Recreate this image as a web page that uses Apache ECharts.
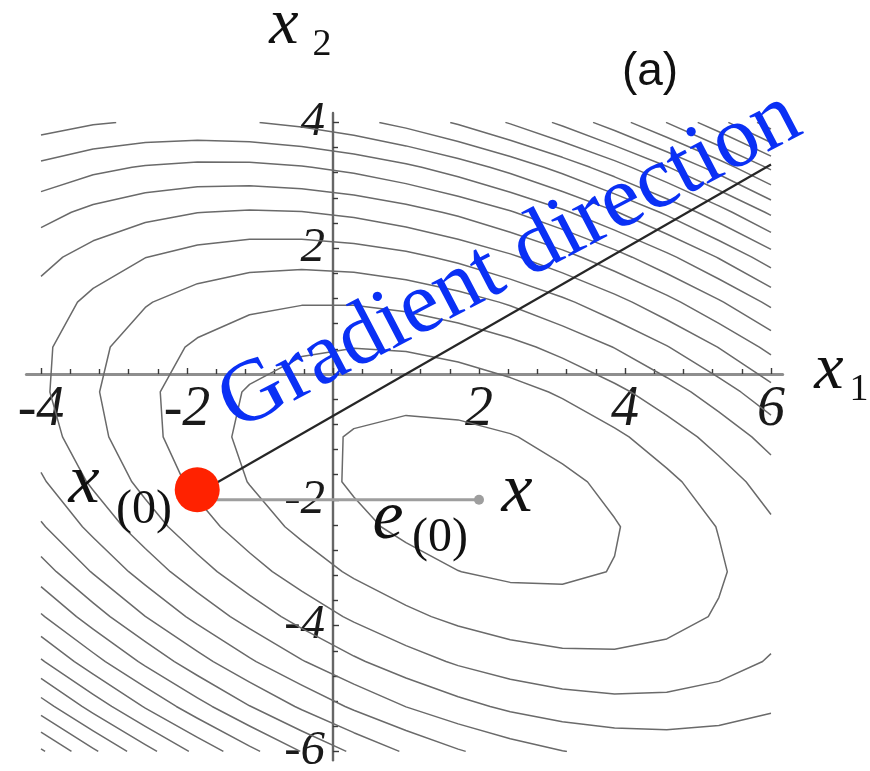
<!DOCTYPE html>
<html>
<head>
<meta charset="utf-8">
<script src="https://cdn.jsdelivr.net/npm/echarts@6/dist/echarts.min.js"></script>
<style>
  html, body { margin: 0; padding: 0; background: #ffffff; }
  #chart { width: 870px; height: 771px; }
</style>
</head>
<body>
<div id="chart"></div>
<script>
// Quadratic form f(x) = 1/2 x'Ax - b'x + c
const matrixA = [[3, 2], [2, 6]];
const vectorB = [2, -8];
const constC = 0;

// Contour levels of f
const contourLevels = [-5.4, 3.6, 12.6, 21.6, 30.6, 39.6, 48.6, 57.6, 66.6, 75.6,
                       84.6, 93.6, 102.6, 111.6, 120.6, 129.6, 138.6, 147.6, 156.6, 165.6];

// Domain of the contour plot and its sampling grid
const domainX1 = [-4, 6];
const domainX2 = [-6, 4];
const samplesPerSide = 15;

// Tick labels shown on each axis
const tickLabelsX1 = [-4, -2, 2, 4, 6];
const tickLabelsX2 = [-6, -4, -2, 2, 4];

// Points of the steepest-descent step
const startPoint = [-2, -2];        // x(0)
const solutionPoint = [2, -2];      // x
const gradientEnd = [6, 3.33];      // end of the gradient direction line
const markerPoint = [-1.86, -1.84]; // red marker near x(0)

function f(x1, x2) {
  return 0.5 * (matrixA[0][0] * x1 * x1 + (matrixA[0][1] + matrixA[1][0]) * x1 * x2 + matrixA[1][1] * x2 * x2)
    - vectorB[0] * x1 - vectorB[1] * x2 + constC;
}

// Marching squares on the sample grid, segments chained into polylines
function contourPaths(level) {
  const n = samplesPerSide;
  const xs = [], ys = [];
  for (let i = 0; i < n; i++) {
    xs.push(domainX1[0] + (domainX1[1] - domainX1[0]) * i / (n - 1));
    ys.push(domainX2[0] + (domainX2[1] - domainX2[0]) * i / (n - 1));
  }
  const val = [];
  for (let i = 0; i < n; i++) {
    val.push([]);
    for (let j = 0; j < n; j++) val[i].push(f(xs[i], ys[j]));
  }
  const pts = {}, adj = {};
  function edge(key, i0, j0, i1, j1) {
    const a = val[i0][j0], b = val[i1][j1];
    if ((a - level) * (b - level) >= 0) return null;
    if (!pts[key]) {
      const t = (level - a) / (b - a);
      pts[key] = [xs[i0] + (xs[i1] - xs[i0]) * t, ys[j0] + (ys[j1] - ys[j0]) * t];
    }
    return key;
  }
  function link(a, b) {
    (adj[a] = adj[a] || []).push(b);
    (adj[b] = adj[b] || []).push(a);
  }
  for (let i = 0; i < n - 1; i++) {
    for (let j = 0; j < n - 1; j++) {
      const e0 = edge('h' + i + '_' + j, i, j, i + 1, j);
      const e1 = edge('v' + (i + 1) + '_' + j, i + 1, j, i + 1, j + 1);
      const e2 = edge('h' + i + '_' + (j + 1), i, j + 1, i + 1, j + 1);
      const e3 = edge('v' + i + '_' + j, i, j, i, j + 1);
      const list = [e0, e1, e2, e3].filter(Boolean);
      if (list.length === 2) link(list[0], list[1]);
      else if (list.length === 4) {
        const c = (val[i][j] + val[i + 1][j] + val[i + 1][j + 1] + val[i][j + 1]) / 4;
        if ((c > level) === (val[i][j] > level)) { link(e0, e1); link(e2, e3); }
        else { link(e3, e0); link(e1, e2); }
      }
    }
  }
  const visited = new Set();
  const paths = [];
  function walk(start) {
    const path = [start];
    visited.add(start);
    let cur = start;
    while (true) {
      const next = (adj[cur] || []).filter(k => !visited.has(k));
      if (!next.length) {
        if (path.length > 2 && (adj[cur] || []).includes(start)) path.push(start);
        break;
      }
      cur = next[0];
      visited.add(cur);
      path.push(cur);
    }
    paths.push(path.map(k => pts[k]));
  }
  Object.keys(adj).forEach(k => { if (adj[k].length === 1 && !visited.has(k)) walk(k); });
  Object.keys(adj).forEach(k => { if (!visited.has(k)) walk(k); });
  return paths;
}

const contourSeries = [];
contourLevels.forEach(level => {
  contourPaths(level).forEach(path => {
    contourSeries.push({
      type: 'line', xAxisIndex: 0, yAxisIndex: 0,
      data: path, showSymbol: false, symbol: 'none', silent: true, clip: true,
      lineStyle: { color: '#6a6a6a', width: 1.5, join: 'round' },
      z: 2
    });
  });
});

// Pixel layout: origin and scale of both axes
const origin = [333, 374];
const pxPerX1 = 73;
const pxPerX2 = 62.9;
function gridFor(x1Range, x2Range) {
  return {
    left: origin[0] + x1Range[0] * pxPerX1,
    right: 870 - (origin[0] + x1Range[1] * pxPerX1),
    top: origin[1] - x2Range[1] * pxPerX2,
    bottom: 771 - (origin[1] - x2Range[0] * pxPerX2),
    containLabel: false,
    outerBoundsMode: 'none'
  };
}
const axisLineX1 = [-4.2, 6.16];
const axisLineX2 = [-6.14, 4.15];

const tickStyle = { color: '#3a3a3a', width: 1.4 };
const serif = "'Liberation Serif', 'Times New Roman', serif";

const chart = echarts.init(document.getElementById('chart'), null, { renderer: 'canvas' });
chart.setOption({
  animation: false,
  backgroundColor: '#ffffff',
  grid: [gridFor(domainX1, domainX2), gridFor(axisLineX1, axisLineX2)],
  xAxis: [
    {
      // ticks and labels, shifted up from the grid bottom onto x2 = 0
      gridIndex: 0, type: 'value', min: domainX1[0], max: domainX1[1], interval: 2,
      position: 'bottom', offset: domainX2[0] * pxPerX2,
      axisLine: { show: false, onZero: false },
      axisTick: { show: true, inside: true, length: 6, lineStyle: tickStyle },
      minorTick: { show: true, splitNumber: 5, length: 5, lineStyle: tickStyle },
      splitLine: { show: false }, minorSplitLine: { show: false },
      axisLabel: {
        show: true, margin: 8, fontFamily: serif, fontStyle: 'italic', fontSize: 56, color: '#1a1a1a',
        formatter: v => tickLabelsX1.includes(v) ? String(v) : ''
      }
    },
    {
      gridIndex: 1, type: 'value', min: axisLineX1[0], max: axisLineX1[1],
      axisLine: { show: true, onZero: true, lineStyle: { color: '#8e8e8e', width: 3 } },
      axisTick: { show: false }, axisLabel: { show: false }, splitLine: { show: false }
    }
  ],
  yAxis: [
    {
      // ticks and labels, shifted right from the grid left edge onto x1 = 0
      gridIndex: 0, type: 'value', min: domainX2[0], max: domainX2[1], interval: 2,
      position: 'left', offset: domainX1[0] * pxPerX1,
      axisLine: { show: false, onZero: false },
      axisTick: { show: true, inside: true, length: 6, lineStyle: tickStyle },
      minorTick: { show: true, splitNumber: 5, length: 5, lineStyle: tickStyle },
      splitLine: { show: false }, minorSplitLine: { show: false },
      axisLabel: {
        show: true, margin: 8, fontFamily: serif, fontStyle: 'italic', fontSize: 49, color: '#1a1a1a',
        formatter: v => tickLabelsX2.includes(v) ? String(v) : ''
      }
    },
    {
      gridIndex: 1, type: 'value', min: axisLineX2[0], max: axisLineX2[1],
      axisLine: { show: true, onZero: true, lineStyle: { color: '#666666', width: 2.4 } },
      axisTick: { show: false }, axisLabel: { show: false }, splitLine: { show: false }
    }
  ],
  series: contourSeries.concat([
    {
      type: 'line', xAxisIndex: 0, yAxisIndex: 0, data: [startPoint, gradientEnd],
      symbol: 'none', silent: true, lineStyle: { color: '#262626', width: 2.2 }, z: 5
    },
    {
      type: 'line', xAxisIndex: 0, yAxisIndex: 0, data: [startPoint, solutionPoint],
      symbol: 'none', silent: true, lineStyle: { color: '#9e9e9e', width: 3 }, z: 5
    },
    {
      type: 'scatter', xAxisIndex: 0, yAxisIndex: 0, data: [solutionPoint],
      symbolSize: 10, itemStyle: { color: '#9e9e9e', opacity: 1 }, silent: true, z: 6
    },
    {
      type: 'scatter', xAxisIndex: 0, yAxisIndex: 0, data: [markerPoint],
      symbolSize: 45, itemStyle: { color: '#ff2200', opacity: 1 }, silent: true, z: 10
    }
  ])
});

// Annotation texts, anchored to data points
function toPx(pt) { return chart.convertToPixel({ xAxisIndex: 0, yAxisIndex: 0 }, pt); }
function label(anchor, dx, dy, text, font, extra) {
  const p = toPx(anchor);
  return Object.assign({
    type: 'text', x: p[0] + dx, y: p[1] + dy, z: 100, silent: true,
    style: Object.assign({
      text: text, align: 'center', verticalAlign: 'middle', fill: '#111111'
    }, font)
  }, extra || {});
}
const mathItalic = size => ({ fontFamily: serif, fontStyle: 'italic', fontSize: size });
const upright = size => ({ fontFamily: serif, fontSize: size });

chart.setOption({
  graphic: [
    label([0, 4], -49, -97, 'x', mathItalic(66)),
    label([0, 4], -11, -77, '2', upright(38)),
    label([6, 0], 58, -3, 'x', mathItalic(66)),
    label([6, 0], 88, 16, '1', upright(38)),
    label([4, 4], 25, -50, '(a)', { fontFamily: "'Liberation Sans', Arial, sans-serif", fontSize: 46 }),
    label(startPoint, -103, -16, 'x', mathItalic(70)),
    label(startPoint, -43, 11, '(0)', upright(48)),
    label(solutionPoint, 38, -7, 'x', mathItalic(70)),
    label(solutionPoint, -91, 20, 'e', mathItalic(70)),
    label(solutionPoint, -39, 39, '(0)', upright(48)),
    label([2, 2], 31, 13, 'Gradient direction',
      { fontFamily: serif, fontSize: 88, fill: '#0a30f5' },
      { rotation: 27.7 * Math.PI / 180 })
  ]
});
</script>
</body>
</html>
